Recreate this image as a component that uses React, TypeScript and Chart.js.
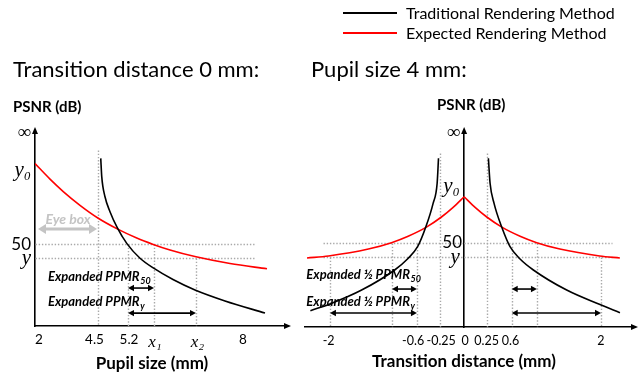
import React, { useEffect, useRef } from "react";
import { Chart, registerables } from "chart.js";
Chart.register(...registerables);

const SANS = "Lato, 'Open Sans', sans-serif";
const SERIF = "'Liberation Serif', 'DejaVu Serif', serif";

// ---------- Left panel: PSNR vs pupil size (schematic axis) ----------
const pupilTickPos = [0.16, 2.38, 3.76, 4.8, 6.5, 8.32];
const pupilTickLabels = ["2", "4.5", "5.2", "x₁", "x₂", "8"];
const pupilMarkPos = [2.52, 3.72, 4.76, 6.44]; // 4.5, 5.2, x1, x2 guide lines
const psnrLeftTickPos = [118, 95, 50, 41.5];
const psnrTickLabels = ["∞", "y₀", "50", "y"];

const leftTraditionalX = [2.63, 2.67, 2.8, 3.0, 3.29, 3.67, 4.2, 4.73, 5.52, 6.4, 7.6, 9.2];
const leftTraditionalY = [102.5, 91.3, 79.0, 69.9, 60.1, 50.5, 41.4, 35.5, 28.4, 22.0, 15.3, 7.9];
const leftExpectedX = [0, 0.6, 1.13, 1.8, 2.53, 3.29, 4.07, 4.73, 5.4, 6.44, 7.8, 9.28];
const leftExpectedY = [99.3, 89.8, 82.2, 73.8, 65.9, 59.4, 53.8, 49.9, 46.5, 42.3, 38.2, 35.0];

// ---------- Right panel: PSNR vs transition distance (schematic axis) ----------
const transTickPos = [-2.01, -0.756, -0.34, 0.015, 0.333, 0.689, 2.03];
const transTickLabels = ["-2", "-0.6", "-0.25", "0", "0.25", "0.6", "2"];
const transMarkPos = [-1.99, -1.07, -0.7, -0.356, 0.336, 0.706, 1.08, 2.03]; // guide lines
const psnrRightTickPos = [115, 83, 50, 41.5];

const rightTradLeftX = [-2.28, -2.0, -1.52, -1.03, -0.84, -0.69, -0.57, -0.46, -0.4, -0.38];
const rightTradLeftY = [9.7, 13.5, 21.9, 33.8, 40.3, 47.6, 59.1, 73.3, 85.2, 100];
const rightTradRightX = [0.36, 0.385, 0.444, 0.559, 0.681, 0.83, 1.027, 1.521, 2.015, 2.311];
const rightTradRightY = [100, 85.2, 73.3, 59.1, 47.6, 40.3, 33.8, 21.9, 13.3, 8.5];
const rightExpLeftX = [-2.33, -2.01, -1.42, -1.077, -0.83, -0.559, -0.336, -0.163, 0];
const rightExpLeftY = [40.9, 42.1, 46.2, 50.0, 53.8, 59.2, 65.2, 70.9, 77.2];
const rightExpRightX = [0, 0.163, 0.336, 0.559, 0.83, 1.077, 1.42, 2.01, 2.31];
const rightExpRightY = [77.2, 70.9, 65.2, 59.2, 53.8, 50.0, 46.2, 42.1, 40.9];

const zip = (xs: number[], ys: number[]) => xs.map((x, i) => ({ x, y: ys[i] }));

type Seg = [number, number, number, number];
interface Label { text: string; sub: string; x: number; y: number }
interface Cfg {
  dotted: Seg[];
  arrows: Seg[];
  grayArrows: Seg[];
  labels: Label[];
  grayText?: { text: string; x: number; y: number };
  yAxisAt?: number;
}

function dblArrow(ctx: CanvasRenderingContext2D, x1: number, x2: number, y: number, color: string, lw: number, hl: number, hw: number) {
  ctx.strokeStyle = color;
  ctx.fillStyle = color;
  ctx.lineWidth = lw;
  ctx.setLineDash([]);
  ctx.beginPath();
  ctx.moveTo(x1 + hl * 0.7, y);
  ctx.lineTo(x2 - hl * 0.7, y);
  ctx.stroke();
  ctx.beginPath();
  ctx.moveTo(x1, y);
  ctx.lineTo(x1 + hl, y - hw);
  ctx.lineTo(x1 + hl, y + hw);
  ctx.closePath();
  ctx.fill();
  ctx.beginPath();
  ctx.moveTo(x2, y);
  ctx.lineTo(x2 - hl, y - hw);
  ctx.lineTo(x2 - hl, y + hw);
  ctx.closePath();
  ctx.fill();
}

function makeSchematic(cfg: Cfg) {
  return {
    id: "schematic",
    beforeDatasetsDraw(chart: any) {
      const { ctx } = chart;
      const xs = chart.scales.x;
      const ys = chart.scales.y;
      ctx.save();
      ctx.strokeStyle = "#a9a9a9";
      ctx.lineWidth = 1.4;
      ctx.setLineDash([1.4, 1.8]);
      cfg.dotted.forEach(([a, b, c, d]) => {
        ctx.beginPath();
        ctx.moveTo(Math.round(xs.getPixelForValue(a)) + 0.5, Math.round(ys.getPixelForValue(b)) + 0.5);
        ctx.lineTo(Math.round(xs.getPixelForValue(c)) + 0.5, Math.round(ys.getPixelForValue(d)) + 0.5);
        ctx.stroke();
      });
      ctx.restore();
    },
    afterDatasetsDraw(chart: any) {
      const { ctx } = chart;
      const xs = chart.scales.x;
      const ys = chart.scales.y;
      ctx.save();
      cfg.arrows.forEach(([a, b, c]) => {
        dblArrow(ctx, xs.getPixelForValue(a), xs.getPixelForValue(c), ys.getPixelForValue(b), "#000", 1.6, 6, 3.2);
      });
      cfg.grayArrows.forEach(([a, b, c]) => {
        dblArrow(ctx, xs.getPixelForValue(a), xs.getPixelForValue(c), ys.getPixelForValue(b), "#c4c4c4", 3, 8, 5);
      });
      ctx.fillStyle = "#000";
      ctx.textBaseline = "middle";
      ctx.textAlign = "left";
      cfg.labels.forEach((l) => {
        const px = xs.getPixelForValue(l.x);
        const py = ys.getPixelForValue(l.y);
        ctx.font = `italic bold 13px ${SANS}`;
        ctx.fillText(l.text, px, py);
        const w = ctx.measureText(l.text).width;
        ctx.font = `italic bold 9px ${SANS}`;
        ctx.fillText(l.sub, px + w + 0.5, py + 4);
      });
      if (cfg.grayText) {
        ctx.fillStyle = "#c4c4c4";
        ctx.textAlign = "center";
        ctx.font = `italic bold 14px ${SANS}`;
        ctx.fillText(cfg.grayText.text, xs.getPixelForValue(cfg.grayText.x), ys.getPixelForValue(cfg.grayText.y));
      }
      ctx.restore();
    },
    afterDraw(chart: any) {
      const { ctx, chartArea } = chart;
      const xs = chart.scales.x;
      const yx = cfg.yAxisAt === undefined ? chartArea.left : xs.getPixelForValue(cfg.yAxisAt);
      ctx.save();
      ctx.fillStyle = "#000";
      ctx.beginPath();
      ctx.moveTo(yx, chartArea.top - 6);
      ctx.lineTo(yx - 3, chartArea.top + 1);
      ctx.lineTo(yx + 3, chartArea.top + 1);
      ctx.closePath();
      ctx.fill();
      ctx.beginPath();
      ctx.moveTo(chartArea.right + 6, chartArea.bottom);
      ctx.lineTo(chartArea.right - 1, chartArea.bottom - 3);
      ctx.lineTo(chartArea.right - 1, chartArea.bottom + 3);
      ctx.closePath();
      ctx.fill();
      ctx.restore();
    },
  };
}

const xTickFont = (labels: string[], size: number) => (c: any) => {
  const t = labels[c.index] || "";
  if (t.startsWith("x")) return { family: SERIF, size: 17, style: "italic" as const };
  return { family: SANS, size };
};
const yTickFont = (c: any) => {
  const t = psnrTickLabels[c.index] || "";
  if (t === "∞") return { family: SERIF, size: 19 };
  if (t.startsWith("y")) return { family: SERIF, size: 21, style: "italic" as const };
  return { family: SANS, size: 17 };
};

const lineDs = (label: string, data: any[], color: string) => ({
  label,
  data,
  borderColor: color,
  backgroundColor: color,
  borderWidth: 1.6,
  pointRadius: 0,
  fill: false,
  cubicInterpolationMode: "monotone" as const,
});

export default function App() {
  const leftRef = useRef<HTMLCanvasElement>(null);
  const rightRef = useRef<HTMLCanvasElement>(null);

  useEffect(() => {
    const [m45, m52, mx1, mx2] = pupilMarkPos;
    const leftCfg: Cfg = {
      dotted: [
        [m45, 107.6, m45, 0],
        [m52, 50, m52, 0],
        [mx1, 50, mx1, 0],
        [mx2, 41.5, mx2, 0],
        [0, 50, 8.8, 50],
        [0, 41.5, 8.8, 41.5],
      ],
      arrows: [
        [m52, 23.2, mx1, 23.2],
        [m52, 7.9, mx2, 7.9],
      ],
      grayArrows: [[0.12, 59.3, 2.48, 59.3]],
      labels: [
        { text: "Expanded PPMR", sub: "50", x: 0.52, y: 30 },
        { text: "Expanded PPMR", sub: "y", x: 0.52, y: 14.7 },
      ],
      grayText: { text: "Eye box", x: 1.32, y: 65.4 },
    };
    const [mN2, mNa, mN06, mN025, mP025, mP06, mPa, mP2] = transMarkPos;
    const rightCfg: Cfg = {
      dotted: [
        [mN025, 103, mN025, 0],
        [mP025, 103, mP025, 0],
        [mN06, 50, mN06, 0],
        [mP06, 50, mP06, 0],
        [mNa, 50, mNa, 0],
        [mPa, 50, mPa, 0],
        [mN2, 41.5, mN2, 0],
        [mP2, 41.5, mP2, 0],
        [-2.1, 50, 2.19, 50],
        [-2.1, 41.5, 2.19, 41.5],
      ],
      arrows: [
        [mNa, 22.5, mN06, 22.5],
        [mP06, 22.5, mPa, 22.5],
        [mN2, 8.3, mN06, 8.3],
        [mP06, 8.3, mP2, 8.3],
      ],
      grayArrows: [],
      labels: [
        { text: "Expanded ½ PPMR", sub: "50", x: -2.34, y: 30.8 },
        { text: "Expanded ½ PPMR", sub: "y", x: -2.34, y: 14.8 },
      ],
      yAxisAt: 0,
    };

    const common = (xTicks: number[], xLabels: string[], yTicks: number[], xSize: number) => ({
      x: {
        type: "linear" as const,
        grid: { display: false, drawTicks: false },
        border: { color: "#000", width: 1.6 },
        afterBuildTicks: (s: any) => {
          s.ticks = xTicks.map((v) => ({ value: v }));
        },
        ticks: {
          autoSkip: false,
          maxRotation: 0,
          padding: 6,
          color: "#000",
          font: xTickFont(xLabels, xSize),
          callback: (_v: any, i: number) => xLabels[i],
        },
      },
      y: {
        type: "linear" as const,
        grid: { display: false, drawTicks: false },
        border: { color: "#000", width: 1.6 },
        afterBuildTicks: (s: any) => {
          s.ticks = yTicks.map((v) => ({ value: v }));
        },
        ticks: {
          autoSkip: false,
          padding: 4,
          color: "#000",
          font: yTickFont,
          callback: (_v: any, i: number) => psnrTickLabels[i],
        },
      },
    });

    const lc = common(pupilTickPos, pupilTickLabels, psnrLeftTickPos, 13.5);
    const left = new Chart(leftRef.current!, {
      type: "line",
      data: {
        datasets: [
          lineDs("Traditional Rendering Method", zip(leftTraditionalX, leftTraditionalY), "#000000"),
          lineDs("Expected Rendering Method", zip(leftExpectedX, leftExpectedY), "#ff0000"),
        ],
      },
      options: {
        responsive: false,
        animation: false,
        devicePixelRatio: 1,
        layout: { padding: { left: 0, top: 133, right: 15, bottom: 0 } },
        plugins: { legend: { display: false }, tooltip: { enabled: false } },
        scales: {
          x: { ...lc.x, min: 0, max: 10, afterFit: (s: any) => { s.height = 54; } },
          y: { ...lc.y, min: 0, max: 118, afterFit: (s: any) => { s.width = 35; } },
        },
      } as any,
      plugins: [makeSchematic(leftCfg)],
    });

    const rc = common(transTickPos, transTickLabels, psnrRightTickPos, 12.5);
    const right = new Chart(rightRef.current!, {
      type: "line",
      data: {
        datasets: [
          lineDs("Traditional Rendering Method", zip(rightTradLeftX, rightTradLeftY), "#000000"),
          lineDs("Traditional Rendering Method", zip(rightTradRightX, rightTradRightY), "#000000"),
          lineDs("Expected Rendering Method", zip(rightExpLeftX, rightExpLeftY), "#ff0000"),
          lineDs("Expected Rendering Method", zip(rightExpRightX, rightExpRightY), "#ff0000"),
        ],
      },
      options: {
        responsive: false,
        animation: false,
        devicePixelRatio: 1,
        layout: { padding: { left: 5, top: 133, right: 7, bottom: 0 } },
        plugins: { legend: { display: false }, tooltip: { enabled: false } },
        scales: {
          x: { ...rc.x, min: -2.36, max: 2.49, afterFit: (s: any) => { s.height = 53; } },
          y: {
            ...rc.y,
            min: 0,
            max: 115,
            position: { x: 0 },
            ticks: { ...rc.y.ticks, callback: (_v: any, i: number) => psnrTickLabels[i] + "\u2009" },
          },
        },
      } as any,
      plugins: [makeSchematic(rightCfg)],
    });

    return () => {
      left.destroy();
      right.destroy();
    };
  }, []);

  const txt = (s: React.CSSProperties): React.CSSProperties => ({
    position: "absolute",
    whiteSpace: "nowrap",
    lineHeight: "1",
    color: "#000",
    fontFamily: SANS,
    ...s,
  });

  return (
    <div style={{ position: "absolute", left: 0, top: 0, width: 639, height: 380, background: "#fff", overflow: "hidden" }}>
      <canvas ref={leftRef} width={300} height={380} style={{ position: "absolute", left: 0, top: 0 }} />
      <canvas ref={rightRef} width={339} height={380} style={{ position: "absolute", left: 300, top: 0 }} />

      <div style={{ position: "absolute", left: 343, top: 12, width: 54, height: 2, background: "#000" }} />
      <div style={txt({ left: 406, top: 5, fontSize: 16 })}>Traditional Rendering Method</div>
      <div style={{ position: "absolute", left: 343, top: 32, width: 54, height: 2, background: "#ff0000" }} />
      <div style={txt({ left: 406, top: 25, fontSize: 16 })}>Expected Rendering Method</div>

      <div style={txt({ left: 13, top: 58, fontSize: 22 })}>Transition distance 0 mm:</div>
      <div style={txt({ left: 311, top: 58, fontSize: 22 })}>Pupil size 4 mm:</div>

      <div style={txt({ left: 13, top: 99, fontSize: 15, fontWeight: 700 })}>PSNR (dB)</div>
      <div style={txt({ left: 437, top: 97, fontSize: 15, fontWeight: 700 })}>PSNR (dB)</div>

      <div style={txt({ left: 152, top: 354, fontSize: 17, fontWeight: 700, transform: "translateX(-50%)" })}>Pupil size (mm)</div>
      <div style={txt({ left: 464, top: 352, fontSize: 17, fontWeight: 700, transform: "translateX(-50%)" })}>Transition distance (mm)</div>
    </div>
  );
}
